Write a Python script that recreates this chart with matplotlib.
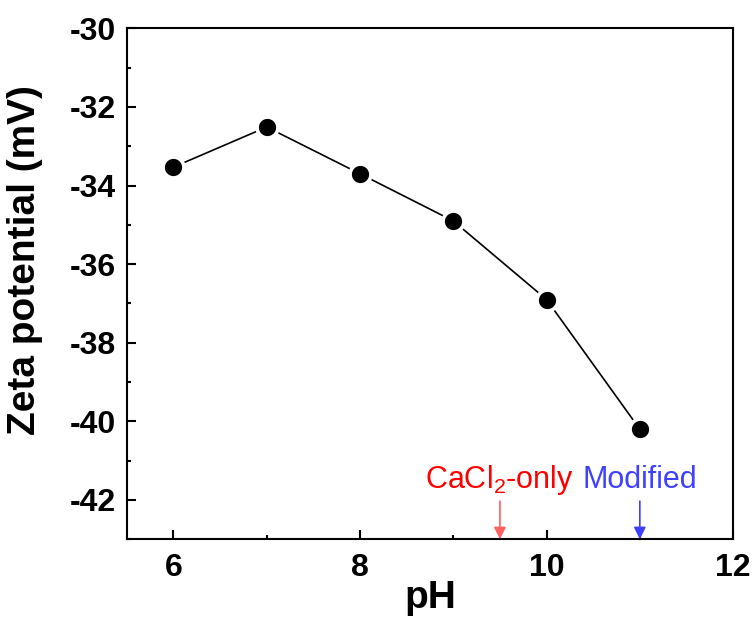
import matplotlib
matplotlib.use('Agg')
import matplotlib.pyplot as plt
from matplotlib.ticker import MultipleLocator

plt.rcParams['font.family'] = ['Liberation Sans', 'DejaVu Sans']
plt.rcParams['mathtext.fontset'] = 'custom'
plt.rcParams['mathtext.rm'] = 'Liberation Sans'
plt.rcParams['axes.unicode_minus'] = False

ph = [6, 7, 8, 9, 10, 11]
zeta = [-33.53, -32.51, -33.70, -34.90, -36.90, -40.20]

# arrow labels under the curve
notes = [r'CaCl$\mathregular{_2}$-only', 'Modified']
note_x = [9.5, 11]
note_text_col = ['#ff0000', '#4040ff']
note_arrow_col = ['#ff6060', '#4040ff']

fig = plt.figure(figsize=(7.55, 6.17), dpi=100)
ax = fig.add_axes([0.168, 0.126, 0.803, 0.828])

ax.plot(ph, zeta, color='black', lw=1.2, marker='o', ms=15,
        mfc='black', mec='white', mew=2.6, zorder=3)

for lab, xv, tc, ac in zip(notes, note_x, note_text_col, note_arrow_col):
    ax.text(xv, -41.69, lab, color=tc, fontsize=22, ha='center', va='baseline')
    ax.annotate('', xy=(xv, -43), xytext=(xv, -42.03),
                arrowprops=dict(arrowstyle='-|>', color=ac, lw=1.2,
                                mutation_scale=18, shrinkA=0, shrinkB=0))

ax.set_xlim(5.5, 12)
ax.set_ylim(-43, -30)
ax.xaxis.set_major_locator(MultipleLocator(2))
ax.xaxis.set_minor_locator(MultipleLocator(1))
ax.yaxis.set_major_locator(MultipleLocator(2))
ax.yaxis.set_minor_locator(MultipleLocator(1))

ax.tick_params(which='both', direction='in', width=1.5, top=False, right=False)
ax.tick_params(which='major', length=6.5, labelsize=23, pad=8)
ax.tick_params(which='minor', length=3)
ax.tick_params(axis='x', which='major', pad=10)
for lbl in ax.get_xticklabels() + ax.get_yticklabels():
    lbl.set_fontweight('bold')
for sp in ax.spines.values():
    sp.set_linewidth(1.5)

ax.set_xlabel('pH', fontsize=28, fontweight='bold')
ax.set_ylabel('Zeta potential (mV)', fontsize=28, fontweight='bold')
ax.xaxis.set_label_coords(0.5, -0.08)
ax.yaxis.set_label_coords(-0.139, 0.546)

fig.savefig('out.png', dpi=100)
